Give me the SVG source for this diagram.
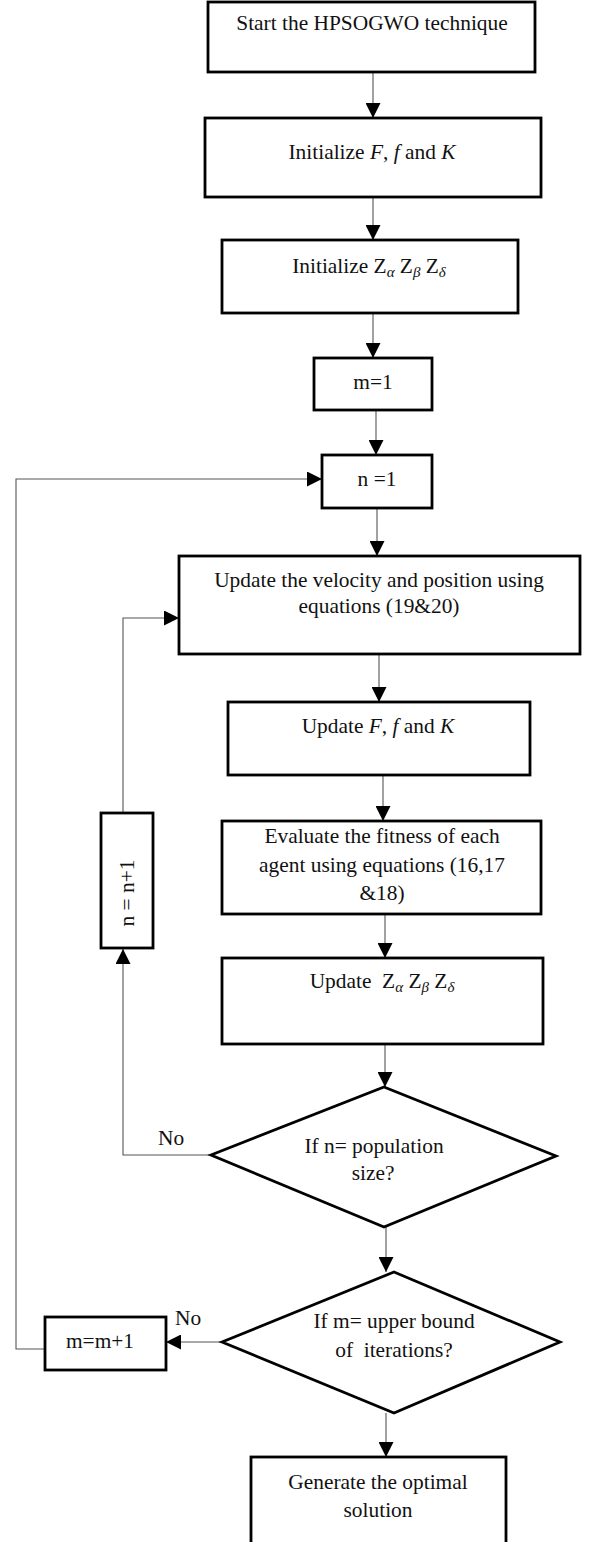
<svg xmlns="http://www.w3.org/2000/svg" width="591" height="1542" viewBox="0 0 591 1542">
<style>
.box{fill:#fff;stroke:#000;stroke-width:2.8}
.t{font-family:"Liberation Serif","Times New Roman",serif;font-size:21.4px;fill:#111;text-anchor:middle}
.ts{font-family:"Liberation Serif","Times New Roman",serif;font-size:21.4px;fill:#111}
.i{font-style:italic}
.sub{font-style:italic;font-size:15px}
.c{fill:none;stroke:#555;stroke-width:1.1}
</style>
<defs>
<marker id="ah" markerUnits="userSpaceOnUse" markerWidth="15" markerHeight="15" refX="15" refY="7.5" orient="auto">
<path d="M0,0 L15,7.5 L0,15 z" fill="#000"/>
</marker>
</defs>
<rect width="591" height="1542" fill="#fff"/>
<g id="connectors">
<line class="c" x1="373" y1="72" x2="373" y2="118" marker-end="url(#ah)"/>
<line class="c" x1="373" y1="197" x2="373" y2="240" marker-end="url(#ah)"/>
<line class="c" x1="373" y1="313" x2="373" y2="358" marker-end="url(#ah)"/>
<line class="c" x1="376" y1="410" x2="376" y2="455" marker-end="url(#ah)"/>
<line class="c" x1="377" y1="508" x2="377" y2="556" marker-end="url(#ah)"/>
<line class="c" x1="379" y1="654" x2="379" y2="702" marker-end="url(#ah)"/>
<line class="c" x1="383" y1="775" x2="383" y2="821" marker-end="url(#ah)"/>
<line class="c" x1="385" y1="914" x2="385" y2="958" marker-end="url(#ah)"/>
<line class="c" x1="385" y1="1044" x2="385" y2="1087" marker-end="url(#ah)"/>
<line class="c" x1="386" y1="1227" x2="386" y2="1272" marker-end="url(#ah)"/>
<line class="c" x1="386" y1="1413" x2="386" y2="1457" marker-end="url(#ah)"/>
<polyline class="c" points="211,1155 123,1155 123,949" marker-end="url(#ah)"/>
<polyline class="c" points="123,813 123,618 179,618" marker-end="url(#ah)"/>
<line class="c" x1="222" y1="1342" x2="166" y2="1342" marker-end="url(#ah)"/>
<polyline class="c" points="45,1349 16,1349 16,479 322,479" marker-end="url(#ah)"/>
<text class="ts" x="158" y="1145">No</text>
<text class="ts" x="175" y="1325">No</text>
</g>
<g id="start">
<rect class="box" x="208" y="2" width="327" height="70"/>
<text class="t" x="372" y="30">Start the HPSOGWO technique</text>
</g>
<g id="init-ffk">
<rect class="box" x="205" y="118" width="336" height="79"/>
<text class="t" x="372" y="159">Initialize <tspan class="i">F</tspan>, <tspan class="i">f</tspan> and <tspan class="i">K</tspan></text>
</g>
<g id="init-z">
<rect class="box" x="222" y="240" width="296" height="73"/>
<text class="t" x="369" y="273">Initialize Z<tspan class="sub" dy="4">α</tspan><tspan dy="-4"> Z</tspan><tspan class="sub" dy="4">β</tspan><tspan dy="-4"> Z</tspan><tspan class="sub" dy="4">δ</tspan></text>
</g>
<g id="m1">
<rect class="box" x="314" y="358" width="118" height="52"/>
<text class="t" x="373" y="389">m=1</text>
</g>
<g id="n1">
<rect class="box" x="322" y="455" width="110" height="53"/>
<text class="t" x="377" y="486">n =1</text>
</g>
<g id="update-vel">
<rect class="box" x="179" y="556" width="401" height="98"/>
<text class="t" x="379" y="587">Update the velocity and position using</text>
<text class="t" x="379" y="613">equations (19&amp;20)</text>
</g>
<g id="update-ffk">
<rect class="box" x="228" y="702" width="302" height="73"/>
<text class="t" x="378" y="733">Update <tspan class="i">F</tspan>, <tspan class="i">f</tspan> and <tspan class="i">K</tspan></text>
</g>
<g id="evaluate">
<rect class="box" x="222" y="821" width="319" height="93"/>
<text class="t" x="382" y="843">Evaluate the fitness of each</text>
<text class="t" x="382" y="872">agent using equations (16,17</text>
<text class="t" x="382" y="900">&amp;18)</text>
</g>
<g id="update-z">
<rect class="box" x="222" y="958" width="321" height="86"/>
<text class="t" x="382" y="988" xml:space="preserve">Update  Z<tspan class="sub" dy="4">α</tspan><tspan dy="-4"> Z</tspan><tspan class="sub" dy="4">β</tspan><tspan dy="-4"> Z</tspan><tspan class="sub" dy="4">δ</tspan></text>
</g>
<g id="n-inc">
<rect class="box" x="101" y="813" width="52" height="135"/>
<text class="t" transform="translate(134,893) rotate(-90)">n = n+1</text>
</g>
<g id="cond-n">
<polygon class="box" points="384,1087 556,1156 384,1227 211,1155"/>
<text class="t" x="374" y="1153">If n= population</text>
<text class="t" x="373" y="1180">size?</text>
</g>
<g id="cond-m">
<polygon class="box" points="394,1272 560,1342 394,1413 222,1342"/>
<text class="t" x="394" y="1328">If m= upper bound</text>
<text class="t" x="394" y="1357" xml:space="preserve">of  iterations?</text>
</g>
<g id="m-inc">
<rect class="box" x="45" y="1317" width="121" height="53"/>
<text class="t" x="100" y="1348">m=m+1</text>
</g>
<g id="generate">
<rect class="box" x="251" y="1457" width="255" height="90"/>
<text class="t" x="378" y="1489">Generate the optimal</text>
<text class="t" x="378" y="1517">solution</text>
</g>
</svg>
